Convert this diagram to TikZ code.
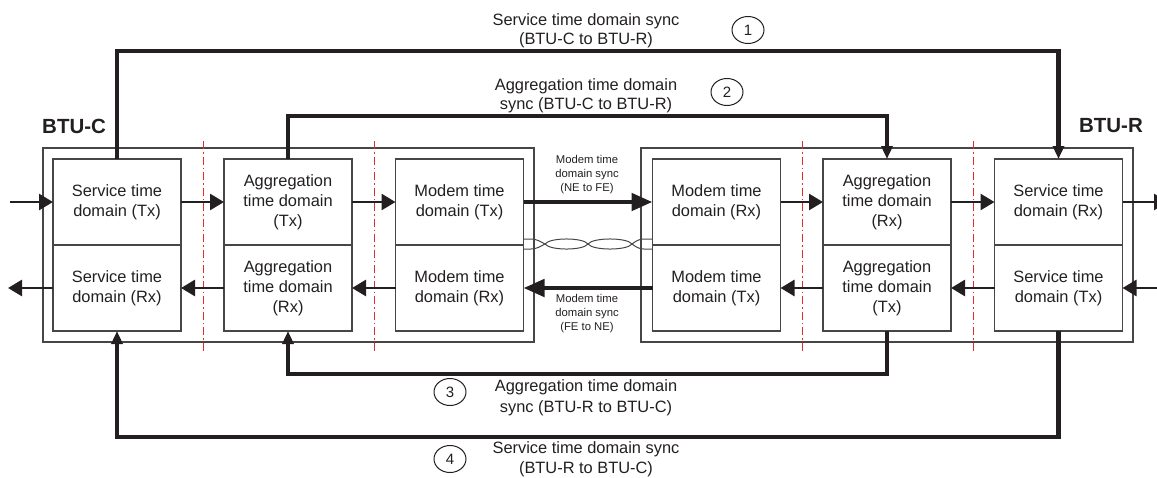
\documentclass[tikz,border=0pt]{standalone}
\usepackage{fontspec}
\setmainfont{Liberation Sans}
\usetikzlibrary{arrows.meta,shapes.geometric}
\definecolor{ink}{RGB}{35,31,32}
\definecolor{frame}{RGB}{70,70,70}
\definecolor{cut}{RGB}{225,45,45}
\begin{document}
\begin{tikzpicture}[x=1pt,y=-1pt,
  half/.style={draw=frame,line width=1.1pt,minimum width=128pt,minimum height=86pt,
    inner sep=0pt,outer sep=0pt,align=center,text=ink,font=\fontsize{16.4}{20}\selectfont},
  unit/.style={draw=frame,line width=1.1pt,inner sep=0pt,outer sep=0pt},
  title/.style={inner sep=0pt,text=ink,font=\bfseries\fontsize{20.5}{24}\selectfont},
  flow/.style={draw=ink,line width=2.7pt,-{Triangle[length=14pt,width=16pt]}},
  link/.style={draw=ink,line width=4.7pt,-{Triangle[length=21pt,width=17pt]}},
  sync/.style={draw=ink,line width=4.5pt,-{Triangle[length=13pt,width=11pt]}},
  synclabel/.style={inner sep=0pt,align=center,text=ink,font=\fontsize{16.4}{#1}\selectfont},
  modemlabel/.style={inner sep=0pt,align=center,text=ink,font=\fontsize{11.3}{14}\selectfont},
  num/.style={ellipse,draw=ink,line width=1pt,minimum width=32pt,minimum height=27pt,
    inner sep=0pt,text=ink,font=\fontsize{15}{18}\selectfont},
  boundary/.style={draw=cut,line width=1pt,dash pattern=on 8pt off 3pt on 1.5pt off 3pt},
  pair/.style={draw=frame,line width=1pt}
]
\useasboundingbox (0,0) rectangle (1157,477);

% enclosing units
\node[unit,minimum width=491pt,minimum height=194pt] (btuc) at (288.5,245) {};
\node[unit,minimum width=492pt,minimum height=194pt] (btur) at (887,245) {};
\node[title,anchor=base west] (btuctitle) at (42,133) {BTU-C};
\node[title,anchor=base east] (btutitle) at (1143,132) {BTU-R};

% boundaries between time domains
\foreach \x in {203,374,802,973}{
  \draw[boundary] (\x,141) -- (\x,352);
}

% BTU-C time domains
\node[half] (sctx) at (117,202) {Service time\\domain (Tx)};
\node[half] (scrx) at (117,288) {Service time\\domain (Rx)};
\node[half] (actx) at (288,202) {Aggregation\\time domain\\(Tx)};
\node[half] (acrx) at (288,288) {Aggregation\\time domain\\(Rx)};
\node[half] (mctx) at (459.5,202) {Modem time\\domain (Tx)};
\node[half] (mcrx) at (459.5,288) {Modem time\\domain (Rx)};

% BTU-R time domains
\node[half] (mrrx) at (716.5,202) {Modem time\\domain (Rx)};
\node[half] (mrtx) at (716.5,288) {Modem time\\domain (Tx)};
\node[half] (arrx) at (887,202) {Aggregation\\time domain\\(Rx)};
\node[half] (artx) at (887,288) {Aggregation\\time domain\\(Tx)};
\node[half] (srrx) at (1058.5,202) {Service time\\domain (Rx)};
\node[half] (srtx) at (1058.5,288) {Service time\\domain (Tx)};

% external ends of the data path
\coordinate (cin) at (10,202);
\coordinate (cout) at (8,288);
\coordinate (rout) at (1168,202);
\coordinate (rin) at (1157,288);

% data path
\draw[flow] (cin) -- (sctx.west);
\draw[flow] (sctx.east) -- (actx.west);
\draw[flow] (actx.east) -- (mctx.west);
\draw[flow] (mrrx.east) -- (arrx.west);
\draw[flow] (arrx.east) -- (srrx.west);
\draw[flow] (srrx.east) -- (rout);
\draw[flow] (rin) -- (srtx.east);
\draw[flow] (srtx.west) -- (artx.east);
\draw[flow] (artx.west) -- (mrtx.east);
\draw[flow] (mcrx.west) -- (acrx.east);
\draw[flow] (acrx.west) -- (scrx.east);
\draw[flow] (scrx.west) -- (cout);

% modem sync over the line
\draw[link] (mctx.east) -- (mrrx.west);
\draw[link] (mrtx.west) -- (mcrx.east);
\node[modemlabel] (nefe) at (587,175) {Modem time\\domain sync\\(NE to FE)};
\node[modemlabel] (fene) at (587,314) {Modem time\\domain sync\\(FE to NE)};

% twisted pair
\draw[pair] (523,239) -- (531,239) .. controls (537,239) and (541,242) .. (545,244)
  .. controls (550,250.7) and (583,250.7) .. (588,244)
  .. controls (593,237.3) and (627,237.3) .. (632,244)
  .. controls (636,247) and (639,249) .. (644,249) -- (652,249);
\draw[pair] (523,249) -- (531,249) .. controls (537,249) and (541,246) .. (545,244)
  .. controls (550,237.3) and (583,237.3) .. (588,244)
  .. controls (593,250.7) and (627,250.7) .. (632,244)
  .. controls (636,241) and (639,239) .. (644,239) -- (652,239);

% time domain sync paths
\coordinate (lvl1) at (0,51);
\coordinate (lvl2) at (0,116);
\coordinate (lvl3) at (0,374);
\coordinate (lvl4) at (0,437);
\draw[sync] (sctx.north) -- (sctx.north |- lvl1) -| (srrx.north);
\draw[sync] (actx.north) -- (actx.north |- lvl2) -| (arrx.north);
\draw[sync] (artx.south) -- (artx.south |- lvl3) -| (acrx.south);
\draw[sync] (srtx.south) -- (srtx.south |- lvl4) -| (scrx.south);

\node[synclabel=18.6] (s1) at (586,30.7) {Service time domain sync\\(BTU-C to BTU-R)};
\node[synclabel=18.6] (s2) at (586,95.7) {Aggregation time domain\\sync (BTU-C to BTU-R)};
\node[synclabel=21] (s3) at (586,398.2) {Aggregation time domain\\sync (BTU-R to BTU-C)};
\node[synclabel=20] (s4) at (586,459.5) {Service time domain sync\\(BTU-R to BTU-C)};

\node[num] (n1) at (748,30) {1};
\node[num] (n2) at (727,92) {2};
\node[num] (n3) at (450,392) {3};
\node[num] (n4) at (450,459) {4};
\end{tikzpicture}
\end{document}
